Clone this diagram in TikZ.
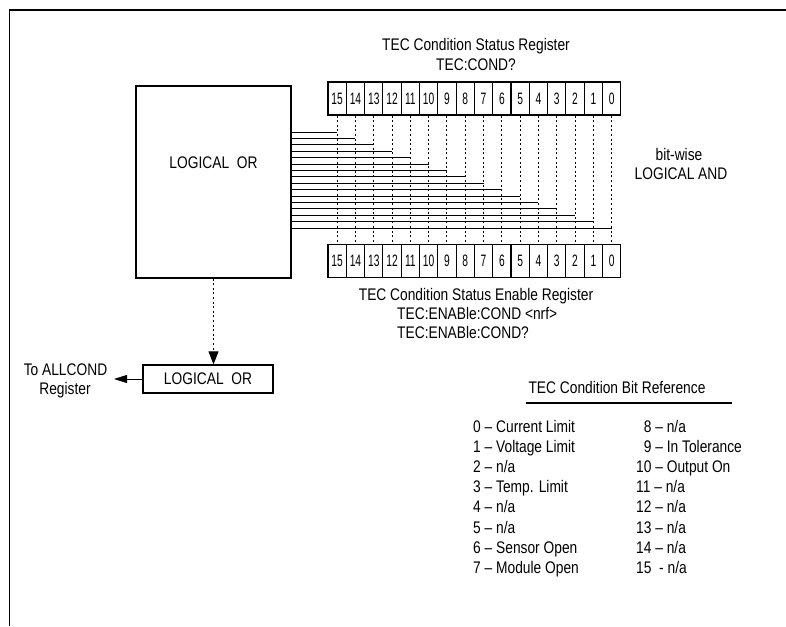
\documentclass[tikz,border=0pt]{standalone}
\usepackage{fontspec}
\setmainfont[FakeStretch=0.82]{Liberation Sans}
\newfontfamily\cellfont[FakeStretch=0.62]{Liberation Sans}
\usetikzlibrary{arrows.meta}
\newcommand{\figfont}{\fontsize{16.8}{20}\selectfont}
\newcommand{\drawregister}[2]{
    \foreach \bitno [count=\i from 0] in {15,...,0}{
      \node[cell] (#1\bitno) at ({337.15+18.3*\i},#2) {\bitno};
    }
}
\tikzset{
  cell/.style={draw, line width=1.1pt, minimum width=18.3pt, minimum height=33pt, inner sep=0pt, font=\cellfont\fontsize{16.5}{17}\selectfont},
  txt/.style={inner sep=0pt, anchor=base, font=\figfont},
  orbox/.style={draw, line width=1.3pt, inner sep=0pt},
  bitdots/.style={line width=1pt, dash pattern=on 2pt off 2.6pt},
  wire/.style={line width=0.9pt},
}

\begin{document}
\begin{tikzpicture}[x=1pt,y=-1pt]
\useasboundingbox (0,0) rectangle (786,626);
\draw[line width=1.3pt] (786,10)--(9.5,10)--(9.5,626);
\node[orbox, minimum width=155pt, minimum height=192pt] (bigor) at (213.5,182) {};
\node[txt] (bigortext) at (213.5,168) {LOGICAL\ \ OR};
\node[txt] (cond1) at (476,50.7) {TEC Condition Status Register};
\node[txt] (cond2) at (476,70.7) {TEC:COND?};
\drawregister{s}{98.5}
\drawregister{e}{261}
\foreach \bitno in {15,...,0}{
    \draw[bitdots] (s\bitno.south)--(e\bitno.north);
    \pgfmathsetmacro\yy{132+6.4*(15-\bitno)}
    \draw[wire] (bigor.east |- 0,\yy)--(s\bitno.south |- 0,\yy);
}
\node[txt] (and1) at (679,160) {bit-wise};
\node[txt] (and2) at (681,179) {LOGICAL AND};
\node[txt] (en1) at (476,300) {TEC Condition Status Enable Register};
\node[txt, anchor=base west] (en2) at (397,319) {TEC:ENABle:COND <nrf>};
\node[txt, anchor=base west] (en3) at (397,338) {TEC:ENABle:COND?};
\node[orbox, minimum width=130pt, minimum height=28pt, font=\figfont] (lor) at (208,379) {LOGICAL\ \ OR};
\draw[bitdots, -{Triangle[length=13pt,width=10pt]}] (bigor.south)--(bigor.south |- lor.north);
\coordinate (allcond) at (114,379);
\draw[wire, -{Triangle[length=13pt,width=8pt]}] (lor.west)--(allcond);
\node[txt] (to1) at (65.5,375) {To ALLCOND};
\node[txt] (to2) at (65,394) {Register};
\node[txt] (reftitle) at (617,393) {TEC Condition Bit Reference};
\draw[line width=1.8pt] (526,402.7)--(732,402.7);
\foreach \t [count=\i from 0] in {0 – Current Limit, 1 – Voltage Limit, 2 – n/a, 3 – Temp. Limit, 4 – n/a, 5 – n/a, 6 – Sensor Open, 7 – Module Open}{
    \node[txt, anchor=base west] (refl\i) at (473,{432+20.2*\i}) {\t};
}
\foreach \t [count=\i from 0] in {\hphantom{1}8 – n/a, \hphantom{1}9 – In Tolerance, 10 – Output On, 11 – n/a, 12 – n/a, 13 – n/a, 14 – n/a, 15\ \ - n/a}{
    \node[txt, anchor=base west] (refr\i) at (636,{432+20.2*\i}) {\t};
}
\end{tikzpicture}
\end{document}
